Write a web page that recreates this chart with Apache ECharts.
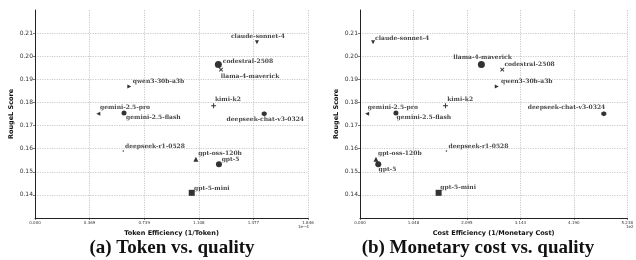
<!DOCTYPE html>
<html>
<head>
<meta charset="utf-8">
<script src="https://cdn.jsdelivr.net/npm/echarts@6/dist/echarts.min.js"></script>
<style>
  html, body { margin: 0; padding: 0; background: #fff; }
  #main { width: 636px; height: 260px; }
</style>
</head>
<body>
<div id="main"></div>
<script>
// models and their measured values
var models = ['claude-sonnet-4', 'codestral-2508', 'llama-4-maverick', 'qwen3-30b-a3b', 'kimi-k2',
  'gemini-2.5-pro', 'gemini-2.5-flash', 'deepseek-chat-v3-0324', 'deepseek-r1-0528',
  'gpt-oss-120b', 'gpt-5', 'gpt-5-mini'];
var tokenEff = [1.501, 1.240, 1.258, 0.638, 1.208, 0.428, 0.602, 1.550, 0.597, 1.088, 1.244, 1.060]; // x1e-4
var costEff = [0.256, 2.379, 2.788, 2.680, 1.675, 0.140, 0.704, 4.778, 1.694, 0.313, 0.358, 1.541]; // x1e2
var rouge = [0.2060, 0.1964, 0.1942, 0.1869, 0.1786, 0.1751, 0.1754, 0.1751, 0.1590, 0.1554, 0.1533, 0.1409];

var tokenTicks = ['0.000', '0.369', '0.739', '1.108', '1.477', '1.846'];
var costTicks = ['0.000', '1.048', '2.095', '3.143', '4.190', '5.238'];
var rougeTicks = ['0.13', '0.14', '0.15', '0.16', '0.17', '0.18', '0.19', '0.20', '0.21', '0.22'];

// marker look per model
var tri = function (d) {
  if (d === 'up') return 'path://M5,0L10,10L0,10Z';
  if (d === 'down') return 'path://M0,0L10,0L5,10Z';
  if (d === 'right') return 'path://M0,0L10,5L0,10Z';
  return 'path://M10,0L0,5L10,10Z';
};
var plus = 'path://M4,0h2v4h4v2h-4v4h-2v-4h-4v-2h4z';
var hexa = 'path://M5,0L9.33,2.5L9.33,7.5L5,10L0.67,7.5L0.67,2.5Z';
var markers = {
  'claude-sonnet-4': { symbol: tri('down'), size: 4 },
  'codestral-2508': { symbol: 'circle', size: 7 },
  'llama-4-maverick': { symbol: plus, size: 5, rotate: 45 },
  'qwen3-30b-a3b': { symbol: tri('right'), size: 4 },
  'kimi-k2': { symbol: plus, size: 5 },
  'gemini-2.5-pro': { symbol: tri('left'), size: 4 },
  'gemini-2.5-flash': { symbol: 'circle', size: 5 },
  'deepseek-chat-v3-0324': { symbol: hexa, size: 5 },
  'deepseek-r1-0528': { symbol: 'circle', size: 1.5 },
  'gpt-oss-120b': { symbol: tri('up'), size: 5 },
  'gpt-5': { symbol: 'circle', size: 6 },
  'gpt-5-mini': { symbol: 'rect', size: 6 }
};

// label offsets (left edge of text, middle) from marker centre
var labelsA = {
  'claude-sonnet-4': [-26, -6], 'codestral-2508': [4.5, -3.3], 'llama-4-maverick': [-0.3, 7],
  'qwen3-30b-a3b': [3.4, -5], 'kimi-k2': [1.3, -6], 'gemini-2.5-pro': [1.7, -6],
  'gemini-2.5-flash': [2, 4], 'deepseek-chat-v3-0324': [-37.6, 6], 'deepseek-r1-0528': [1.7, -5],
  'gpt-oss-120b': [2.3, -5.7], 'gpt-5': [2.7, -4.7], 'gpt-5-mini': [2.3, -4.4]
};
var labelsB = {
  'claude-sonnet-4': [2, -4.4], 'codestral-2508': [23, 0], 'llama-4-maverick': [-49, -12],
  'qwen3-30b-a3b': [4.3, -5.3], 'kimi-k2': [1.7, -6], 'gemini-2.5-pro': [0.7, -6],
  'gemini-2.5-flash': [0.6, 4.6], 'deepseek-chat-v3-0324': [-76, -6.6], 'deepseek-r1-0528': [2, -5],
  'gpt-oss-120b': [2, -5.7], 'gpt-5': [0.3, 5.3], 'gpt-5-mini': [1.7, -5]
};

function buildData(xs, offsets) {
  return models.map(function (m, i) {
    var mk = markers[m];
    return {
      name: m,
      value: [xs[i], rouge[i]],
      symbol: mk.symbol,
      symbolSize: mk.size,
      symbolRotate: mk.rotate || 0,
      label: {
        show: true,
        formatter: m,
        position: 'inside',
        align: 'left',
        verticalAlign: 'middle',
        offset: offsets[m],
        fontFamily: 'DejaVu Serif',
        fontWeight: 'bold',
        fontSize: 6,
        color: '#111'
      }
    };
  });
}

var dotted = { color: '#bdbdbd', type: [1.2, 1.2], width: 0.8 };
var axisLineStyle = { show: true, onZero: false, lineStyle: { color: '#222', width: 1 } };

function xAxis(idx, ticks, max, name) {
  var step = max / 5;
  return {
    type: 'value', gridIndex: idx, min: 0, max: max, interval: step,
    name: name, nameLocation: 'middle', nameGap: 11,
    nameTextStyle: { fontFamily: 'DejaVu Sans', fontWeight: 'bold', fontSize: 6.5, color: '#111' },
    axisLine: axisLineStyle,
    axisTick: { show: true, length: 2, lineStyle: { color: '#222', width: 0.6 } },
    axisLabel: {
      fontSize: 4, color: '#333', margin: 3, fontFamily: 'DejaVu Sans',
      formatter: function (v) { return ticks[Math.round(v / step)] || ''; }
    },
    splitLine: { show: true, lineStyle: dotted, showMinLine: false, showMaxLine: true }
  };
}
function yAxis(idx) {
  return {
    type: 'value', gridIndex: idx, min: 0.13, max: 0.22, interval: 0.01,
    name: 'RougeL Score', nameLocation: 'middle', nameGap: 20,
    nameTextStyle: { fontFamily: 'DejaVu Sans', fontWeight: 'bold', fontSize: 6.5, color: '#111' },
    axisLine: axisLineStyle,
    axisTick: { show: true, length: 2, lineStyle: { color: '#222', width: 0.6 } },
    axisLabel: {
      fontSize: 6, color: '#333', margin: 2, fontFamily: 'DejaVu Sans',
      showMinLabel: false, showMaxLabel: false,
      formatter: function (v) { return rougeTicks[Math.round((v - 0.13) / 0.01)] || ''; }
    },
    splitLine: { show: true, lineStyle: dotted, showMinLine: false, showMaxLine: false }
  };
}

var chart = echarts.init(document.getElementById('main'), null, { renderer: 'canvas' });
chart.setOption({
  animation: false,
  backgroundColor: '#fff',
  grid: [
    { left: 35, top: 10, width: 273, height: 208 },
    { left: 360, top: 10, width: 273, height: 208 }
  ],
  xAxis: [
    xAxis(0, tokenTicks, 1.8463, 'Token Efficiency (1/Token)'),
    xAxis(1, costTicks, 5.238, 'Cost Efficiency (1/Monetary Cost)')
  ],
  yAxis: [yAxis(0), yAxis(1)],
  series: [
    { type: 'scatter', xAxisIndex: 0, yAxisIndex: 0, itemStyle: { color: '#000' }, data: buildData(tokenEff, labelsA) },
    { type: 'scatter', xAxisIndex: 1, yAxisIndex: 1, itemStyle: { color: '#000' }, data: buildData(costEff, labelsB) }
  ],
  graphic: [
    { type: 'text', left: 298, top: 225, style: { text: '1e\u22124', fontSize: 4, fill: '#333', fontFamily: 'DejaVu Sans' } },
    { type: 'text', left: 626, top: 225, style: { text: '1e2', fontSize: 4, fill: '#333', fontFamily: 'DejaVu Sans' } },
    { type: 'text', x: 172, y: 248, style: { text: '(a) Token vs. quality', font: 'bold 19px "Liberation Serif"', fill: '#111', align: 'center', verticalAlign: 'middle' } },
    { type: 'text', x: 478, y: 248, style: { text: '(b) Monetary cost vs. quality', font: 'bold 19px "Liberation Serif"', fill: '#111', align: 'center', verticalAlign: 'middle' } }
  ]
});
</script>
</body>
</html>
